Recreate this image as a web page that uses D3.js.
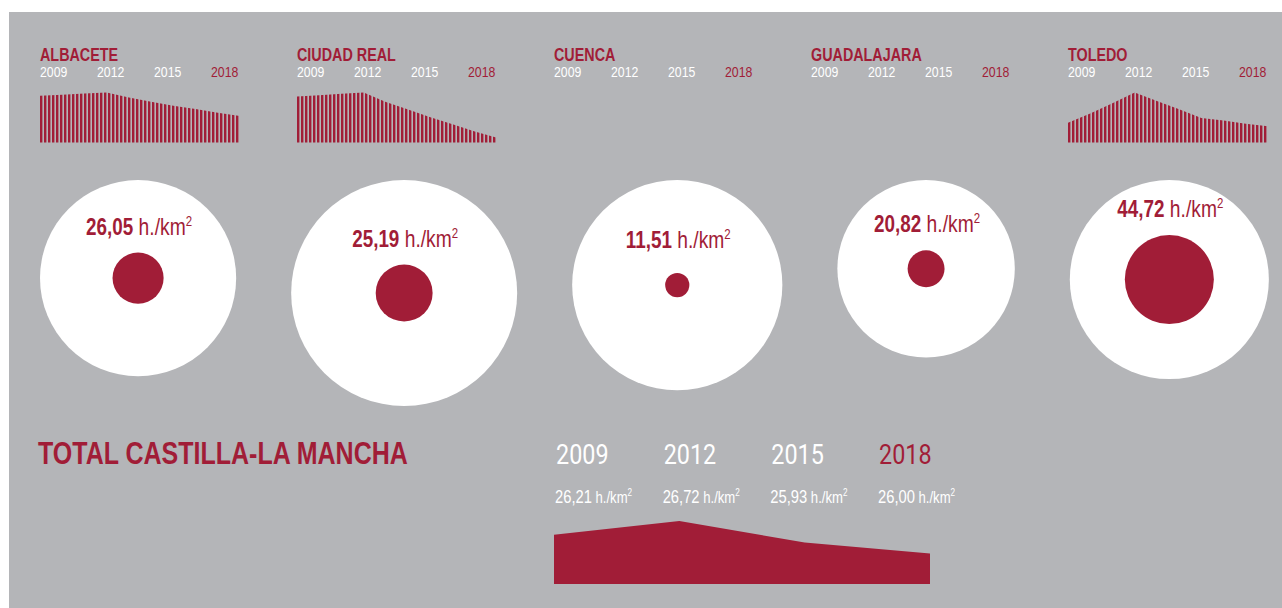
<!DOCTYPE html>
<html>
<head>
<meta charset="utf-8">
<script src="https://cdn.jsdelivr.net/npm/d3@7"></script>
<style>
  body { margin: 0; background: #fff; }
  svg { display: block; }
  text { font-family: "Liberation Sans", Arial, sans-serif; }
</style>
</head>
<body>
<svg id="chart" width="1282" height="608"></svg>
<script>
var provinces = ["ALBACETE", "CIUDAD REAL", "CUENCA", "GUADALAJARA", "TOLEDO"];
var areaKm2 = [14926, 19813, 17141, 12214, 15370];
var density2018 = [26.05, 25.19, 11.51, 20.82, 44.72];
var densityLabels = ["26,05", "25,19", "11,51", "20,82", "44,72"];

var years = [2009, 2010, 2011, 2012, 2013, 2014, 2015, 2016, 2017, 2018];
var yearTicks = [2009, 2012, 2015, 2018];

// yearly density
var albaceteSeries = [26.86, 26.90, 26.95, 26.99, 26.79, 26.62, 26.46, 26.33, 26.18, 26.05];
var ciudadRealSeries = [26.50, 26.54, 26.59, 26.63, 26.33, 26.09, 25.84, 25.62, 25.39, 25.19];
var cuencaSeries = [];
var guadalajaraSeries = [];
var toledoSeries = [44.85, 45.21, 45.60, 46.01, 45.69, 45.37, 45.04, 44.94, 44.82, 44.72];
var seriesFloor = [24.98, 25.04, 0, 0, 44.10];

var totalYears = [2009, 2012, 2015, 2018];
var totalLabels = ["26,21", "26,72", "25,93", "26,00"];
var totalTrend = [26.21, 26.72, 25.93, 25.52];

var RED = "#a11d37";
var GREY = "#b4b5b8";
var NARROW = 0.82;

var svg = d3.select("#chart");

// condensed look: squeeze a regular face horizontally
function addText(parent, x, y) {
  return parent.append("text")
               .attr("transform", "translate(" + x + "," + y + ") scale(" + NARROW + ",1)");
}

svg.append("rect")
   .attr("x", 9)
   .attr("y", 12)
   .attr("width", 1282 - 9)
   .attr("height", 608 - 12)
   .style("fill", GREY);

// stripes used to fill the small area charts
svg.append("defs")
   .append("pattern")
   .attr("id", "stripes")
   .attr("patternUnits", "userSpaceOnUse")
   .attr("width", 4)
   .attr("height", 10)
   .append("rect")
   .attr("x", 0)
   .attr("y", 0)
   .attr("width", 2.4)
   .attr("height", 10)
   .style("fill", RED);

var allSeries = [albaceteSeries, ciudadRealSeries, cuencaSeries, guadalajaraSeries, toledoSeries];

var colX = d3.scalePoint()
             .domain(provinces)
             .range([40, 40 + 257 * 4]);

var tickX = d3.scalePoint()
              .domain(yearTicks)
              .range([0, 171]);

var sparkX = d3.scaleLinear()
               .domain([2009, 2018])
               .range([0, 200]);

function drawHeader(name, i) {

  var g = svg.append("g")
             .attr("transform", "translate(" + colX(name) + ",0)");

  addText(g, 0, 61)
   .style("font-size", "17.5px")
   .style("font-weight", "bold")
   .style("fill", RED)
   .text(name);

  yearTicks.forEach(function(d){
    addText(g, tickX(d), 77)
     .style("font-size", "15px")
     .style("fill", d == 2018 ? RED : "#ffffff")
     .text(d);
  });

  var series = allSeries[i];
  if (series.length == 0) return;

  var sparkY = d3.scaleLinear()
                 .domain([seriesFloor[i], d3.max(series)])
                 .range([142.5, 92.5]);

  var area = d3.area()
               .x(function(d, j){ return sparkX(years[j]) })
               .y0(142.5)
               .y1(function(d){ return sparkY(d) });

  g.append("path")
   .datum(series)
   .attr("d", area)
   .style("fill", "url(#stripes)");
}

provinces.forEach(drawHeader);

// circles: white = surface, red = share of it for the 2018 density (per 100)
var surfaceR = d3.scaleSqrt()
                 .domain([0, d3.max(areaKm2)])
                 .range([0, 113]);

var left = 40;
var gap = 55;
var circleTop = 180;

provinces.forEach(function(name, i){

  var r = surfaceR(areaKm2[i]);
  var cx = left + r;
  var cy = circleTop + r;
  var dotR = d3.scaleLinear()
               .domain([0, 100])
               .range([0, r]);
  var rd = dotR(density2018[i]);
  left = left + 2 * r + gap;

  svg.append("circle")
     .attr("cx", cx)
     .attr("cy", cy)
     .attr("r", r)
     .style("fill", "#ffffff");

  svg.append("circle")
     .attr("cx", cx)
     .attr("cy", cy)
     .attr("r", rd)
     .style("fill", RED);

  var label = addText(svg, cx + 1, Math.min(cy - rd - 18, circleTop + 68))
                 .attr("text-anchor", "middle")
                 .style("fill", RED);

  label.append("tspan")
       .style("font-size", "23px")
       .style("font-weight", "bold")
       .text(densityLabels[i]);

  label.append("tspan")
       .style("font-size", "23.5px")
       .text(" h./km");

  label.append("tspan")
       .style("font-size", "14px")
       .attr("dy", -9)
       .text("2");
});

// total for the region
addText(svg, 38, 464)
   .style("font-size", "30.5px")
   .style("font-weight", "bold")
   .style("fill", RED)
   .text("TOTAL CASTILLA-LA MANCHA");

var totalX = d3.scalePoint()
               .domain(totalYears)
               .range([556, 879]);

totalYears.forEach(function(d){
  addText(svg, totalX(d), 464)
     .style("font-family", "Roboto, 'Liberation Sans', sans-serif")
     .style("font-size", "28.5px")
     .style("fill", d == 2018 ? RED : "#ffffff")
     .text(d);
});

totalLabels.forEach(function(d, i){

  var t = addText(svg, totalX(totalYears[i]) - 1, 503)
             .style("fill", "#ffffff");

  t.append("tspan")
   .style("font-size", "18px")
   .text(d);

  t.append("tspan")
   .style("font-size", "16px")
   .text(" h./km");

  t.append("tspan")
   .style("font-size", "10px")
   .attr("dy", -7)
   .text("2");
});

var trendX = d3.scaleLinear()
               .domain([2009, 2018])
               .range([554, 930]);

var trendY = d3.scaleLinear()
               .domain([24.4, 26.72])
               .range([584, 521]);

var trendArea = d3.area()
                  .x(function(d, i){ return trendX(totalYears[i]) })
                  .y0(584)
                  .y1(function(d){ return trendY(d) });

svg.append("path")
   .datum(totalTrend)
   .attr("d", trendArea)
   .style("fill", RED);
</script>
</body>
</html>
